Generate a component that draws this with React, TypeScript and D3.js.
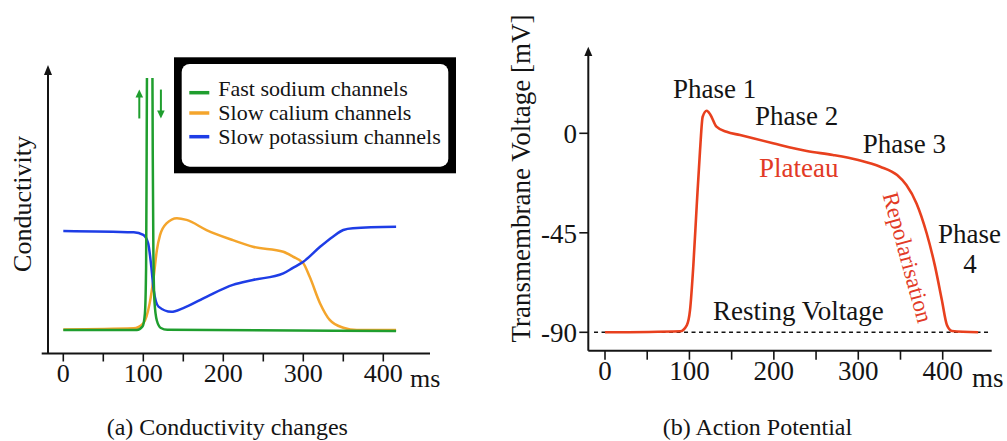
import React from 'react';
import * as d3 from 'd3';

// ---------- data ----------
const timeTicks = [0, 100, 200, 300, 400];
const timeMinorTicks = [50, 150, 250, 350];
const voltageTicks = [0, -45, -90];

// (a) conductivity curves: [ms, relative conductivity]
const sodium: [number, number][] = [
  [0, 8.3], [92, 8.3], [99, 9.5], [102, 14], [103.5, 30], [104.2, 70], [104.8, 110],
  [108, 140], [111.2, 110], [111.8, 70], [112.6, 35], [114, 18], [117, 11.5],
  [122, 9], [130, 8.4], [416, 8.0],
];
const calcium: [number, number][] = [
  [0, 8.5], [88, 8.9], [100, 10.6], [108, 17.6], [113, 26.7], [117, 36.0], [121, 41.2],
  [129, 45.2], [142, 47.0], [154, 46.4], [179, 42.9], [212, 39.4], [237, 37.1],
  [275, 35.4], [287, 33.7], [300, 31.4], [308, 26.7], [321, 17.5], [333, 11.8],
  [350, 9.1], [367, 8.3], [416, 8.3],
];
const potassium: [number, number][] = [
  [0, 42.6], [88, 42.1], [100, 41.2], [106, 38.4], [110, 30.2], [113, 22.1], [119, 16.4],
  [135, 14.6], [150, 15.9], [179, 19.8], [212, 23.9], [237, 25.6], [275, 27.9],
  [287, 29.8], [300, 31.9], [321, 37.1], [337, 40.6], [350, 42.9], [362, 43.5], [416, 44.0],
];

// (b) action potential: [ms, mV]
const actionPotential: [number, number][] = [
  [0, -90], [89, -89.5], [97, -86.7], [100.7, -80], [104.6, -60], [108.6, -33],
  [112.6, -7.5], [115.7, 7.5], [120.5, 10.2], [125, 8.3], [132, 3], [144, 0.7],
  [160, -0.8], [199, -4.5], [239, -8], [270, -9.8], [300, -12.1], [326, -15.1],
  [346, -18.9], [357, -23.4], [369, -31.7], [381, -45.2], [391, -60.3], [399, -75.4],
  [405, -86.7], [411, -89.4], [442, -90],
];
const restingVoltage = -90;
const restingSpan = [-13, 454];

const legendItems = [
  { label: 'Fast sodium channels', color: '#1f9e2e' },
  { label: 'Slow calium channels', color: '#f4a52c' },
  { label: 'Slow potassium channels', color: '#1e3de6' },
];

const SERIF = '"Liberation Serif", "Times New Roman", Times, serif';
const INK = '#141414';
const RED = '#e8401e';
const RED_TEXT = '#e23a26';

export default function App() {
  // ---- scales (a) ----
  const xL = d3.scaleLinear().domain([0, 400]).range([63.3, 383.3]);
  const yL = d3.scaleLinear().domain([0, 100]).range([354, 65]);
  const lineL = d3
    .line<[number, number]>()
    .x((d) => xL(d[0]))
    .y((d) => yL(d[1]))
    .curve(d3.curveMonotoneX);

  // ---- scales (b) ----
  const xR = d3.scaleLinear().domain([0, 400]).range([605, 942.7]);
  const yR = d3.scaleLinear().domain([0, -90]).range([133.3, 332.3]);
  const lineR = d3
    .line<[number, number]>()
    .x((d) => xR(d[0]))
    .y((d) => yR(d[1]))
    .curve(d3.curveMonotoneX);

  const axLy = 353.5;
  const axLx = 48;
  const axRy = 350.7;
  const axRx = 588.3;

  const arrowUpX = xL(95);
  const arrowDownX = xL(122);
  const arrTop = yL(91.5);
  const arrBot = yL(81.5);

  return (
    <svg
      width={1007}
      height={441}
      style={{ position: 'absolute', left: 0, top: 0, background: '#fff' }}
      fontFamily={SERIF}
    >
      <defs>
        <clipPath id="spikeClip">
          <rect x={0} y={78} width={500} height={363} />
        </clipPath>
      </defs>
      <rect x={0} y={0} width={1007} height={441} fill="#fff" />

      {/* ================= (a) ================= */}
      {/* axes */}
      <line x1={41.7} x2={430} y1={axLy} y2={axLy} stroke={INK} strokeWidth={2} />
      <line x1={axLx} x2={axLx} y1={axLy} y2={72} stroke={INK} strokeWidth={2} />
      <polygon points={`${axLx},65 ${axLx - 4},75 ${axLx + 4},75`} fill={INK} />
      {[...timeTicks, ...timeMinorTicks].map((t) => (
        <line key={'lt' + t} x1={xL(t)} x2={xL(t)} y1={axLy} y2={axLy + 8} stroke={INK} strokeWidth={1.6} />
      ))}
      {timeTicks.map((t) => (
        <text key={'ll' + t} x={xL(t)} y={382} fontSize={26} textAnchor="middle" fill={INK}>
          {t}
        </text>
      ))}
      <text x={410} y={387} fontSize={26} fill={INK}>ms</text>
      <text
        transform="translate(22,204) rotate(-90)"
        fontSize={26}
        textAnchor="middle"
        dominantBaseline="central"
        fill={INK}
      >
        Conductivity
      </text>

      {/* curves */}
      <path d={lineL(calcium) || ''} fill="none" stroke={legendItems[1].color} strokeWidth={2.5} />
      <path d={lineL(potassium) || ''} fill="none" stroke={legendItems[2].color} strokeWidth={2.5} />
      <g clipPath="url(#spikeClip)">
        <path d={lineL(sodium) || ''} fill="none" stroke={legendItems[0].color} strokeWidth={2.5} />
      </g>

      {/* sodium arrows */}
      <line x1={arrowUpX} x2={arrowUpX} y1={arrBot} y2={arrTop + 6} stroke={legendItems[0].color} strokeWidth={2} />
      <polygon
        points={`${arrowUpX},${arrTop} ${arrowUpX - 3.8},${arrTop + 8} ${arrowUpX + 3.8},${arrTop + 8}`}
        fill={legendItems[0].color}
      />
      <line x1={arrowDownX} x2={arrowDownX} y1={arrTop} y2={arrBot - 6} stroke={legendItems[0].color} strokeWidth={2} />
      <polygon
        points={`${arrowDownX},${arrBot} ${arrowDownX - 3.8},${arrBot - 8} ${arrowDownX + 3.8},${arrBot - 8}`}
        fill={legendItems[0].color}
      />

      {/* legend */}
      <rect x={174} y={57.3} width={282} height={116} fill="#000" />
      <rect x={181.7} y={64} width={266.6} height={102.7} rx={8} fill="#fff" />
      {legendItems.map((it, i) => {
        const sy = [92.7, 113, 136.7][i];
        const by = [96, 120, 143.5][i];
        return (
          <g key={it.label}>
            <line x1={189.3} x2={209.3} y1={sy} y2={sy} stroke={it.color} strokeWidth={3.5} />
            <text x={218.3} y={by} fontSize={22} fill={INK}>
              {it.label}
            </text>
          </g>
        );
      })}

      <text x={227.3} y={435} fontSize={24} textAnchor="middle" fill={INK}>
        (a) Conductivity changes
      </text>

      {/* ================= (b) ================= */}
      <line x1={axRx} x2={991.7} y1={axRy} y2={axRy} stroke={INK} strokeWidth={2} />
      <line x1={axRx} x2={axRx} y1={axRy} y2={54} stroke={INK} strokeWidth={2} />
      <polygon points={`${axRx},46.7 ${axRx - 4},56 ${axRx + 4},56`} fill={INK} />
      {[...timeTicks, ...timeMinorTicks].map((t) => (
        <line key={'rt' + t} x1={xR(t)} x2={xR(t)} y1={axRy} y2={axRy + 9} stroke={INK} strokeWidth={1.6} />
      ))}
      {timeTicks.map((t) => (
        <text key={'rl' + t} x={xR(t)} y={380} fontSize={27} textAnchor="middle" fill={INK}>
          {t}
        </text>
      ))}
      <text x={972} y={387} fontSize={27} fill={INK}>ms</text>
      {voltageTicks.map((v) => (
        <g key={'v' + v}>
          <line x1={axRx - 9} x2={axRx} y1={yR(v)} y2={yR(v)} stroke={INK} strokeWidth={1.6} />
          <text x={577} y={yR(v)} dy="0.36em" fontSize={27} textAnchor="end" fill={INK}>
            {v}
          </text>
        </g>
      ))}
      <text
        transform="translate(521,178.5) rotate(-90)"
        fontSize={27}
        textAnchor="middle"
        dominantBaseline="central"
        fill={INK}
      >
        Transmembrane Voltage [mV]
      </text>

      {/* resting voltage dashed line */}
      <line
        x1={xR(restingSpan[0])}
        x2={xR(restingSpan[1])}
        y1={yR(restingVoltage)}
        y2={yR(restingVoltage)}
        stroke={INK}
        strokeWidth={1.6}
        strokeDasharray="4 3.5"
      />
      <path d={lineR(actionPotential) || ''} fill="none" stroke={RED} strokeWidth={2.6} />

      {/* annotations */}
      <text x={673} y={98} fontSize={27} fill={INK}>Phase 1</text>
      <text x={755} y={125} fontSize={27} fill={INK}>Phase 2</text>
      <text x={862.7} y={153} fontSize={27} fill={INK}>Phase 3</text>
      <text x={759} y={177} fontSize={27} fill={RED_TEXT}>Plateau</text>
      <text x={713} y={320} fontSize={27} fill={INK}>Resting Voltage</text>
      <text x={938} y={243} fontSize={27} fill={INK}>Phase</text>
      <text x={970} y={273} fontSize={27} textAnchor="middle" fill={INK}>4</text>
      <text
        transform="translate(907.5,257.5) rotate(74.7)"
        fontSize={23}
        textAnchor="middle"
        dominantBaseline="central"
        fill={RED_TEXT}
      >
        Repolarisation
      </text>

      <text x={757.5} y={435} fontSize={24} textAnchor="middle" fill={INK}>
        (b) Action Potential
      </text>
    </svg>
  );
}
